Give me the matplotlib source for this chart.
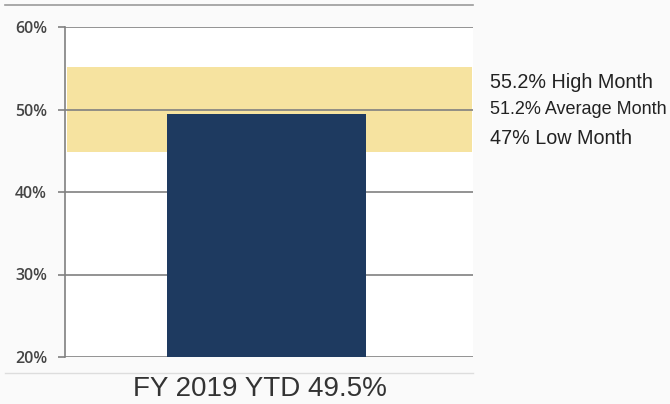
import matplotlib.pyplot as plt
from matplotlib.lines import Line2D

# YTD value and monthly range
ytd_label = "FY 2019 YTD 49.5%"
ytd_value = 49.5
band_low = 44.8
band_high = 55.2
range_labels = ["55.2% High Month", "51.2% Average Month", "47% Low Month"]
yticks = [20, 30, 40, 50, 60]

navy = "#1e3a60"
band_color = "#f6e3a0"
grid_color = "#808080"
text_color = "#333333"

fig = plt.figure(figsize=(6.7, 4.04), dpi=100, facecolor="#fafafa")
W, H = 670, 404
ax = fig.add_axes([65 / W, 1 - 357 / H, (473 - 65) / W, (357 - 27) / H])
ax.set_facecolor("white")

ax.set_xlim(0, 1)
ax.set_ylim(20, 60)

ax.axhspan(band_low, band_high, xmin=0.005, xmax=0.998, color=band_color, zorder=1, lw=0)
for t in yticks:
    ax.axhline(t, color=grid_color, lw=1.2, zorder=2)
ax.bar([0.493], [ytd_value], width=0.488, bottom=0, color=navy, zorder=3)

for s in ["top", "right", "bottom"]:
    ax.spines[s].set_visible(False)
ax.spines["left"].set_color(grid_color)
ax.spines["left"].set_linewidth(1.2)

ax.set_xticks([])
ax.set_yticks(yticks)
ax.set_yticklabels([f"{t}%" for t in yticks], fontsize=11.5, color="#444444",
                   family="Open Sans", fontweight="semibold")
ax.tick_params(axis="y", length=5, width=1.2, color=grid_color, pad=8)

# range labels to the right of the band
label_y = [83, 110, 138]
label_size = [14.2, 13, 14.2]
for txt, y, fs in zip(range_labels, label_y, label_size):
    fig.text(490 / W, 1 - y / H, txt, fontsize=fs, color="#222222",
             family="Liberation Sans", ha="left", va="center")

fig.text(260 / W, 1 - 389 / H, ytd_label, fontsize=20, color=text_color,
         family="Liberation Sans", ha="center", va="center")

# frame rules above and below the chart
fig.add_artist(Line2D([5 / W, 473 / W], [1 - 5 / H, 1 - 5 / H], color="#9a9a9a", lw=1.2))
fig.add_artist(Line2D([5 / W, 473 / W], [1 - 373 / H, 1 - 373 / H], color="#dddddd", lw=1))

fig.savefig("out.png", dpi=100, facecolor=fig.get_facecolor())
